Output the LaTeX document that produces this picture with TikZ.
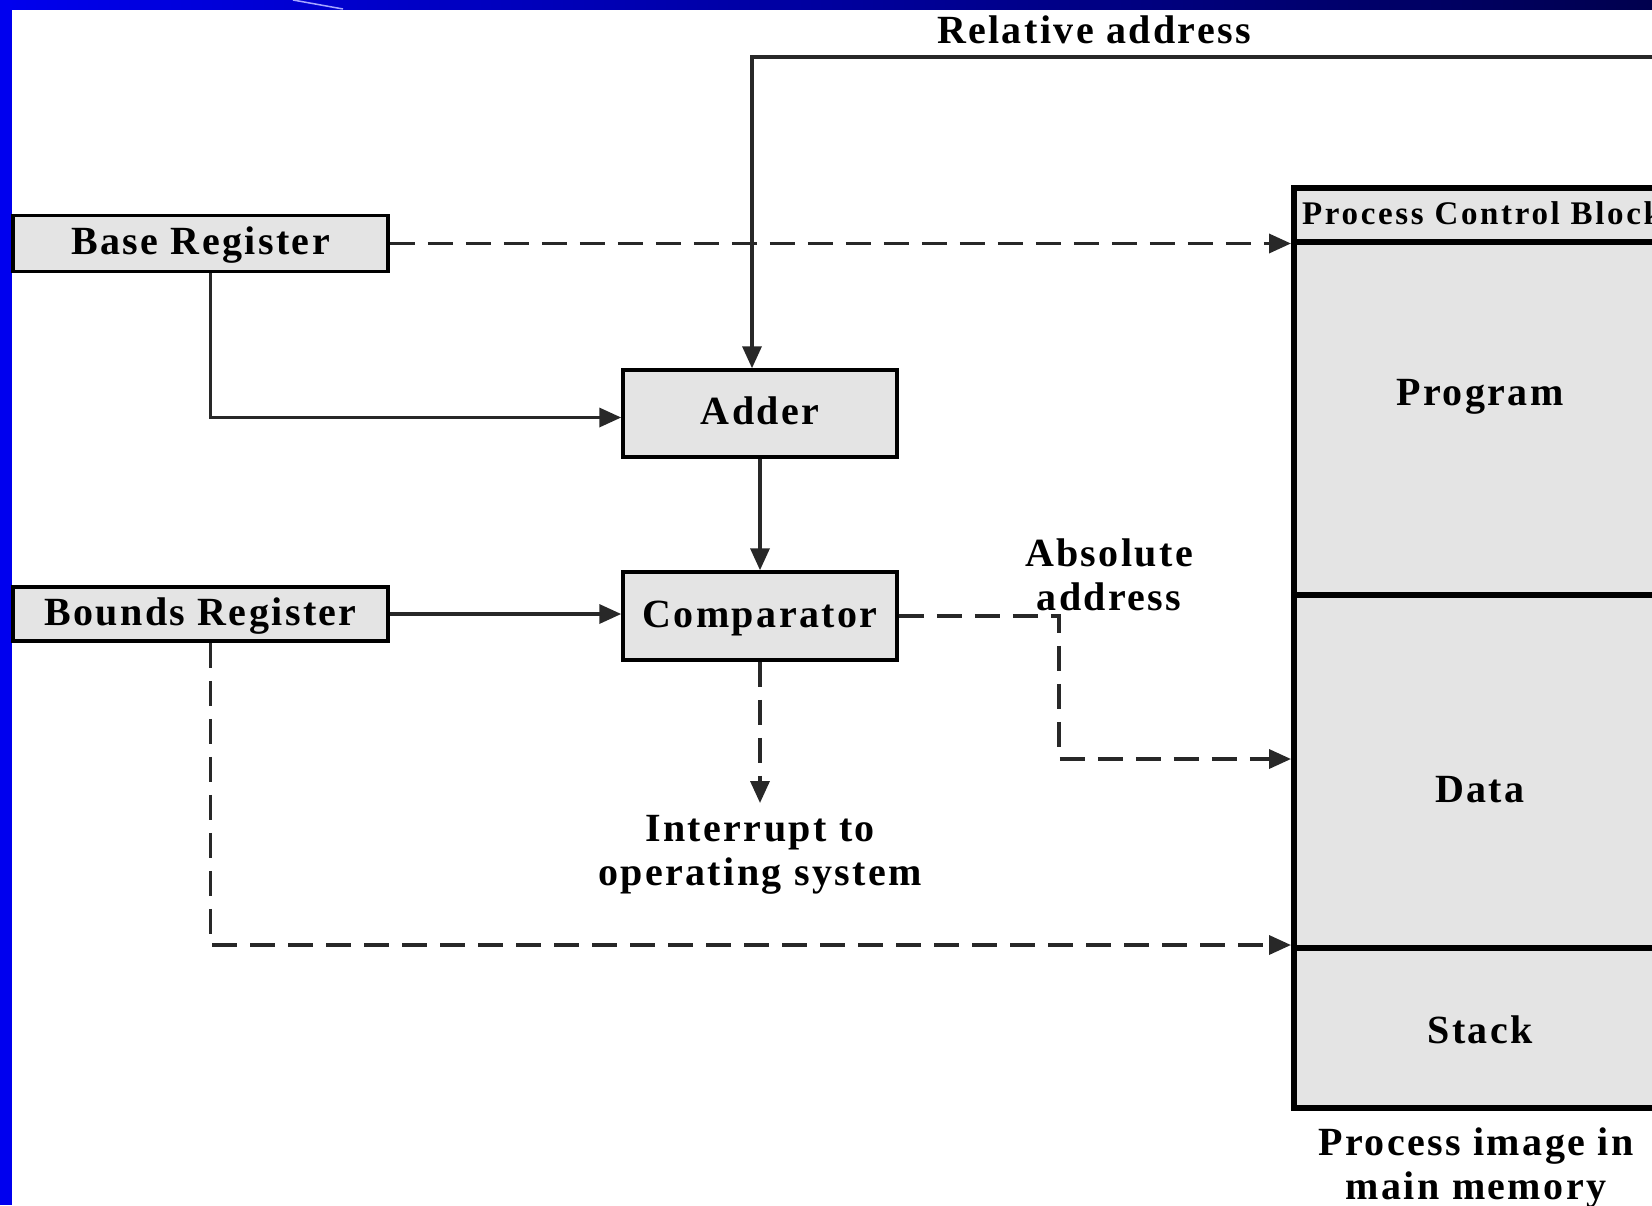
\documentclass[tikz,border=0pt]{standalone}
\usepackage{fontspec}
\setmainfont{Liberation Serif}
\newfontfamily\lblfont{Liberation Serif}[LetterSpace=6]
\newfontfamily\pcbfont{Liberation Serif}[LetterSpace=8]
\usetikzlibrary{arrows.meta,calc}

\definecolor{boxgray}{RGB}{228,228,228}
\definecolor{linegray}{RGB}{40,40,40}
\definecolor{slideblue}{RGB}{0,0,238}
\definecolor{slidenavy}{RGB}{0,0,78}

\begin{document}
\begin{tikzpicture}[x=1pt,y=-1pt,
  every node/.style={font=\lblfont\bfseries\fontsize{40}{44}\selectfont},
  unit/.style={draw=black, line width=3.5pt, fill=boxgray, inner sep=0pt,
               text height=30pt, text depth=7.5pt},
  memcell/.style={draw=black, line width=6pt, fill=boxgray, inner sep=0pt,
                  minimum width=406pt},
  tip/.style={-{Triangle[length=22pt,width=19pt]}},
  link/.style={tip, line width=3.5pt, draw=linegray},
  dlink/.style={link, dash pattern=on 25pt off 13pt},
  caption/.style={align=center, inner sep=2pt}
]
\useasboundingbox (0,0) rectangle (1652,1205);
\clip (0,0) rectangle (1652,1205);
\fill[white] (0,0) rectangle (1652,1205);

% slide frame
\shade[left color=slideblue, right color=slidenavy] (0,0) rectangle (1652,9);
\draw[blue!35, line width=1.5pt] (293,0) -- (343,9);
\fill[slideblue] (0,0) rectangle (12,1205);

% registers and arithmetic units
\node[unit, minimum width=375pt, minimum height=56pt] (base)   at (200.5,243.5) {Base Register};
\node[unit, minimum width=375pt, minimum height=54pt] (bounds) at (200.5,614) {Bounds Register};
\node[unit, minimum width=274pt, minimum height=87pt] (adder)  at (760,413.5) {Adder};
\node[unit, minimum width=274pt, minimum height=88pt] (comp)   at (760,616) {Comparator};

% process image in main memory
\node[memcell, minimum height=54pt]  (pcb)     at (1497,215)   {};
\node[memcell, minimum height=353pt] (program) at (1497,418.5) {};
\node[memcell, minimum height=353pt] (data)    at (1497,771.5) {};
\node[memcell, minimum height=160pt] (stack)   at (1497,1028)  {};

\node[anchor=west, inner sep=0pt, font=\pcbfont\bfseries\fontsize{33}{38}\selectfont]
  (pcbtext) at (1302,213) {Process Control Block};
\node (progtext)  at (1480,397)  {Program};
\node (datatext)  at (1480,790)  {Data};
\node (stacktext) at (1480,1030) {Stack};
\node[caption] (image) at (1476,1168) {Process image in\\main memory};

% labels
\node (rel) at (1094,30) {Relative address};
\node[caption] (abs) at (1109,575) {Absolute\\address};
\node[caption, anchor=north] (intr) at (760,813.5) {Interrupt to\\operating system};

% connectors
\coordinate (relin) at (1700,57);
\draw[link] (relin) -| ([xshift=-8pt]adder.north);
\draw[link] ([xshift=10pt]base.south) |- ([yshift=-4pt]adder.west);
\draw[link] (adder.south) -- (comp.north);
\draw[link] (bounds.east) -- (bounds.east -| comp.west);
\draw[dlink] (base.east) -- (base.east -| pcb.west);
\draw[dlink] (comp.south) -- ([yshift=10.5pt]intr.north);
\coordinate (bend) at (1059,759);
\draw[dlink] (comp.east) -| (bend) -- (bend -| data.west);
\draw[dlink] ([xshift=10pt]bounds.south) |- (stack.north west);
\end{tikzpicture}
\end{document}
